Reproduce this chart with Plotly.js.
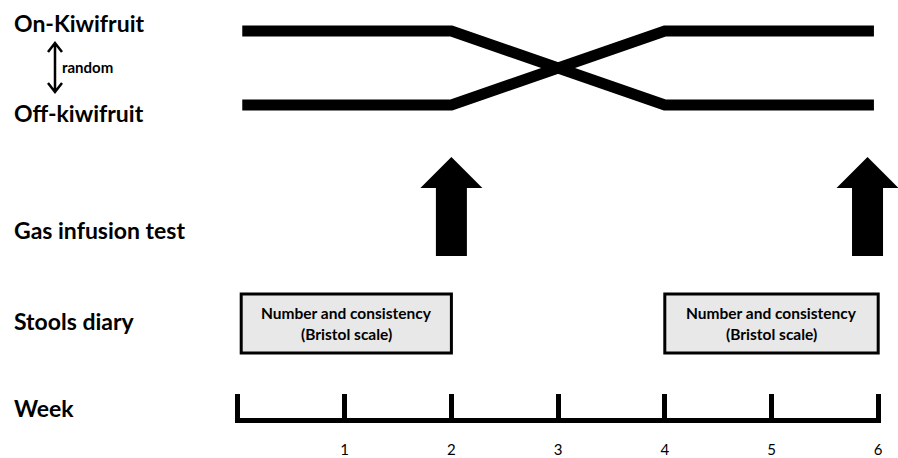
<!DOCTYPE html>
<html>
<head>
<meta charset="utf-8">
<script src="https://cdn.plot.ly/plotly-3.0.1.min.js"></script>
<style>html,body{margin:0;padding:0;background:#fff;}#chart{width:898px;height:458px;}</style>
</head>
<body>
<div id="chart"></div>
<script>
// ---- data ----
const weeks = [0, 1, 2, 3, 4, 5, 6];
const weekLabels = ["", "1", "2", "3", "4", "5", "6"];
const knotWeeks = [0.04, 2, 4, 5.96];
const armA = ["On", "On", "Off", "Off"];
const armB = ["Off", "Off", "On", "On"];
const gasTestWeeks = [2, 5.9];
const diaryStart = [0.03, 4];
const diaryEnd = [2, 6];
const diaryLine1 = "Number and consistency";
const diaryLine2 = "(Bristol scale)";
const rowLabels = ["On-Kiwifruit", "Off-kiwifruit", "Gas infusion test", "Stools diary", "Week"];

// ---- layout constants (pixel rows; y axis is in pixel units) ----
const W = 898, H = 458;
const week0Px = 238, pxPerWeek = 106.7;
const levelY = { On: 31, Off: 105 };
const rowY = [23, 113, 230, 321, 408];
const axisY = 420;
const pad = 0.03;
const FONT = "Lato, 'Open Sans', sans-serif";

const traces = [
  { x: knotWeeks, y: armA.map(v => levelY[v]), mode: "lines",
    line: { color: "#000", width: 11 }, hoverinfo: "skip", showlegend: false },
  { x: knotWeeks, y: armB.map(v => levelY[v]), mode: "lines",
    line: { color: "#000", width: 11 }, hoverinfo: "skip", showlegend: false },
  { x: weeks, y: weeks.map(() => null), xaxis: "x2", yaxis: "y", mode: "lines",
    hoverinfo: "skip", showlegend: false }
];

const shapes = [];
// gas infusion test arrows
gasTestWeeks.forEach(w => {
  shapes.push({
    type: "path", xref: "x", yref: "y", xsizemode: "pixel", xanchor: w,
    path: "M0,157 L31,188 L15.5,188 L15.5,256 L-15.5,256 L-15.5,188 L-31,188 Z",
    fillcolor: "#000", line: { color: "#000", width: 0 }
  });
});
// stools diary boxes
diaryStart.forEach((s, i) => {
  shapes.push({
    type: "rect", xref: "x", yref: "y", x0: s, x1: diaryEnd[i], y0: 294, y1: 353,
    fillcolor: "#e8e8e8", line: { color: "#000", width: 3 }
  });
});
// random double arrow
shapes.push({
  type: "path", xref: "paper", yref: "y", xsizemode: "pixel", xanchor: 55 / W,
  path: "M0,43 L0,92 M-7,52 L0,43 L7,52 M-7,83 L0,92 L7,83",
  line: { color: "#000", width: 2.5 }
});

const annotations = [];
rowLabels.forEach((t, i) => {
  annotations.push({
    text: t, xref: "paper", yref: "y", x: 12 / W, y: rowY[i],
    xanchor: "left", yanchor: "middle", showarrow: false,
    font: { family: FONT, size: 23, color: "#000", weight: "bold" }
  });
});
annotations.push({
  text: "random", xref: "paper", yref: "y", x: 60 / W, y: 67,
  xanchor: "left", yanchor: "middle", showarrow: false,
  font: { family: FONT, size: 15, color: "#000", weight: "bold" }
});
diaryStart.forEach((s, i) => {
  const c = (s + diaryEnd[i]) / 2;
  annotations.push({
    text: diaryLine1, xref: "x", yref: "y", x: c, y: 313,
    xanchor: "center", yanchor: "middle", showarrow: false,
    font: { family: FONT, size: 15.5, color: "#000", weight: "bold" }
  });
  annotations.push({
    text: diaryLine2, xref: "x", yref: "y", x: c, y: 334,
    xanchor: "center", yanchor: "middle", showarrow: false,
    font: { family: FONT, size: 15.5, color: "#000", weight: "bold" }
  });
});

const layout = {
  width: W, height: H,
  margin: { l: 0, r: 0, t: 0, b: 0, pad: 0 },
  paper_bgcolor: "#fff", plot_bgcolor: "rgba(0,0,0,0)",
  showlegend: false,
  xaxis: { range: [-week0Px / pxPerWeek, (W - week0Px) / pxPerWeek], visible: false, fixedrange: true },
  yaxis: { range: [H, 0], visible: false, fixedrange: true },
  xaxis2: {
    domain: [(week0Px - pad * pxPerWeek) / W, (week0Px + (6 + pad) * pxPerWeek) / W],
    range: [-pad, 6 + pad],
    anchor: "free", position: (H - axisY) / H,
    showline: true, linecolor: "#000", linewidth: 5,
    showgrid: false, zeroline: false,
    tickmode: "array", tickvals: weeks, ticktext: weekLabels,
    ticks: "inside", ticklen: 24, tickwidth: 5, tickcolor: "#000",
    ticklabelstandoff: 14,
    tickfont: { family: FONT, size: 15, color: "#000" },
    fixedrange: true
  },
  shapes: shapes,
  annotations: annotations
};

Plotly.newPlot("chart", traces, layout, { displayModeBar: false, staticPlot: true });
</script>
</body>
</html>
